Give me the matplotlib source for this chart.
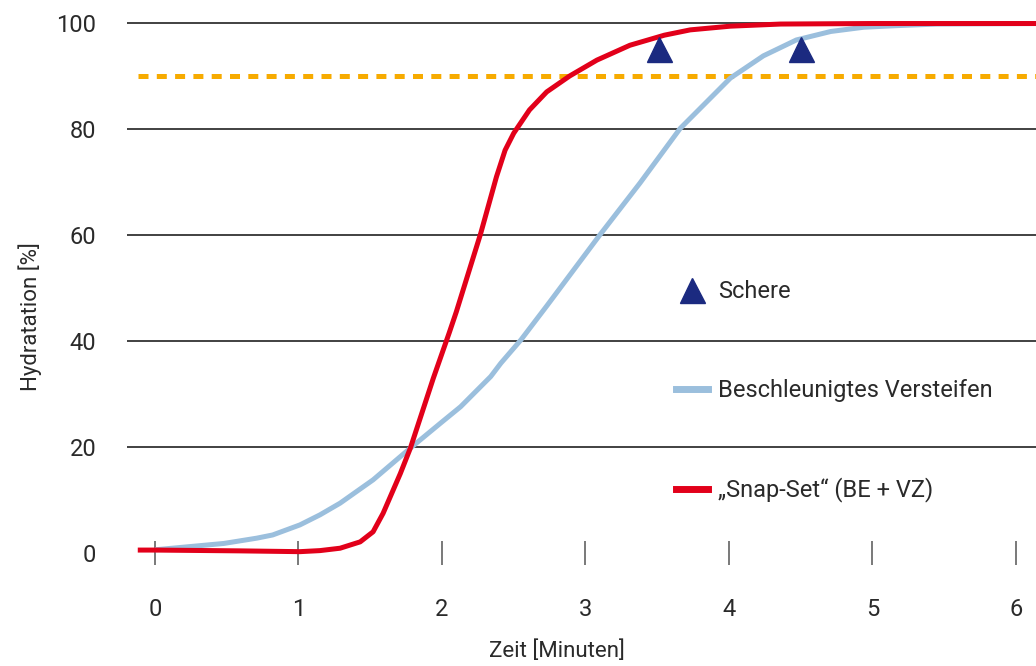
import matplotlib
matplotlib.use("Agg")
import matplotlib.pyplot as plt
from matplotlib.lines import Line2D

plt.rcParams['font.family'] = ['Roboto', 'DejaVu Sans']

# Snap-Set (BE + VZ)
red_x = [-0.12, 0.0, 0.59, 1.01, 1.15, 1.29, 1.43, 1.52, 1.59, 1.71, 1.78, 1.94, 2.05,
         2.10, 2.27, 2.38, 2.44, 2.50, 2.61, 2.73, 2.89, 3.08, 3.31, 3.55, 3.73, 4.01,
         4.36, 5.00, 6.14]
red_y = [0.55, 0.55, 0.4, 0.25, 0.45, 0.9, 2.1, 4.0, 7.5, 15.0, 19.8, 33.0, 41.5,
         45.5, 60.3, 71.0, 76.0, 79.2, 83.6, 87.0, 90.0, 93.0, 95.8, 97.7, 98.7, 99.4,
         99.8, 99.9, 99.9]

# Beschleunigtes Versteifen
blue_x = [0.0, 0.24, 0.48, 0.71, 0.82, 1.01, 1.15, 1.29, 1.52, 1.78, 1.99, 2.13, 2.34,
          2.41, 2.55, 2.73, 3.10, 3.38, 3.66, 4.01, 4.24, 4.47, 4.71, 4.94, 5.17, 5.45,
          6.14]
blue_y = [0.6, 1.2, 1.8, 2.8, 3.4, 5.3, 7.2, 9.4, 13.8, 19.8, 24.5, 27.6, 33.3,
          35.8, 40.2, 46.6, 60.0, 69.8, 80.1, 89.6, 93.8, 96.8, 98.4, 99.2, 99.5, 99.8,
          99.9]

# Schere
shear_x = [3.51, 4.50]
shear_y = [95.0, 95.0]

limit_y = 90
limit_x = [-0.12, 6.14]

xticks = [0, 1, 2, 3, 4, 5, 6]
yticks = [0, 20, 40, 60, 80, 100]

text_color = '#2a2a2a'

fig = plt.figure(figsize=(10.36, 6.66), dpi=100)
ax = fig.add_axes([0.1226, 0.1299, 0.8774, 0.8515])
ax.set_xlim(-0.195, 6.14)
ax.set_ylim(-5, 102)

ax.plot(limit_x, [limit_y, limit_y], color='#f7ab00', lw=3.6, dashes=(2.0, 1.66),
        dash_capstyle='butt', zorder=2)
ax.plot(blue_x, blue_y, color='#9bbfdd', lw=3.6, solid_capstyle='butt',
        solid_joinstyle='round', zorder=3)
ax.plot(red_x, red_y, color='#e2001a', lw=3.6, solid_capstyle='butt',
        solid_joinstyle='round', zorder=4)
ax.plot(shear_x, shear_y, ls='none', marker='^', ms=18, color='#1b2a80', zorder=5)

ax.set_xticks(xticks)
ax.set_yticks(yticks)
ax.yaxis.grid(True, color='#333333', lw=1.3)
ax.get_ygridlines()[0].set_visible(False)
ax.set_axisbelow(True)

for s in ['top', 'right', 'left']:
    ax.spines[s].set_visible(False)
ax.spines['bottom'].set_position(('data', 0))
ax.spines['bottom'].set_color('none')

ax.tick_params(axis='x', direction='inout', length=17, width=1.1, color='#555555',
               pad=24, labelsize=17, labelcolor=text_color)
ax.tick_params(axis='y', length=0, pad=22, labelsize=17, labelcolor=text_color)

ax.set_xlabel('Zeit [Minuten]', fontsize=16, color=text_color)
ax.xaxis.set_label_coords(0.473, -0.108)
ax.set_ylabel('Hydratation [%]', fontsize=16, color=text_color)
ax.yaxis.set_label_coords(-0.094, 0.463)

handles = [
    Line2D([], [], ls='none', marker='^', ms=18, color='#1b2a80'),
    Line2D([], [], color='#9bbfdd', lw=5),
    Line2D([], [], color='#e2001a', lw=5),
]
labels = ['Schere', 'Beschleunigtes Versteifen', '\u201eSnap-Set\u201c (BE + VZ)']
fig.legend(handles, labels, loc='upper left', bbox_to_anchor=(0.6525, 0.579),
           frameon=False, fontsize=17, labelspacing=3.2, handlelength=1.35,
           handletextpad=0.42, borderpad=0, borderaxespad=0, labelcolor=text_color)

fig.savefig('out.png', dpi=100)
